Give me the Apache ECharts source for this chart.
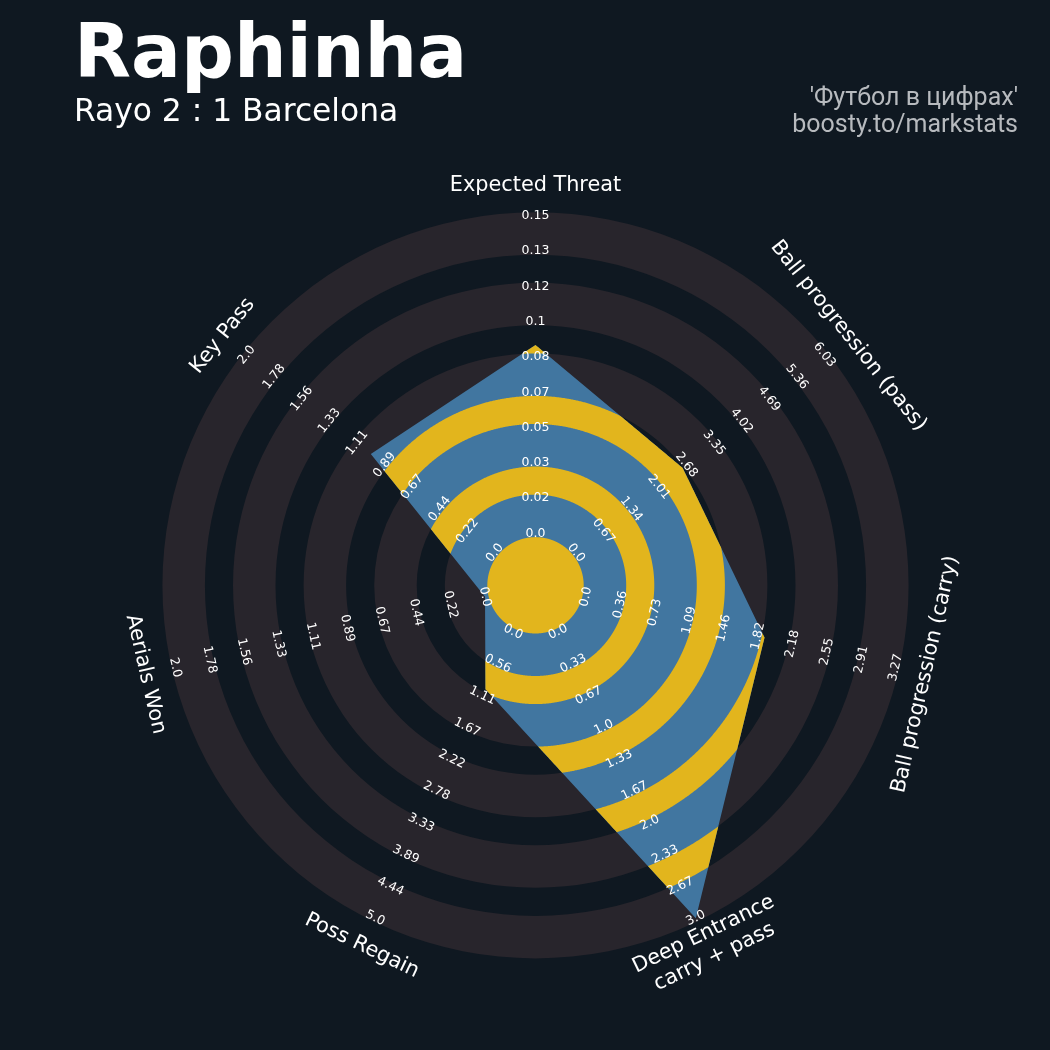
<!DOCTYPE html>
<html>
<head>
<meta charset="utf-8">
<script src="https://cdn.jsdelivr.net/npm/echarts/dist/echarts.min.js"></script>
<style>
html,body{margin:0;padding:0;background:#0f1821;}
#chart{width:1050px;height:1050px;}
</style>
</head>
<body>
<div id="chart"></div>
<script>
// ---------------- data ----------------
const params = ['Expected Threat', 'Ball progression (pass)', 'Ball progression (carry)',
  'Deep Entrance\ncarry + pass', 'Poss Regain', 'Aerials Won', 'Key Pass'];
const minRange = [0, 0, 0, 0, 0, 0, 0];
const maxRange = [0.15, 6.03, 3.27, 3.0, 5.0, 2.0, 2.0];
const values = [0.089, 2.59, 1.885, 3.0, 1.0, 0.0, 1.0];
const tickLabels = [
  ['0.0', '0.02', '0.03', '0.05', '0.07', '0.08', '0.1', '0.12', '0.13', '0.15'],
  ['0.0', '0.67', '1.34', '2.01', '2.68', '3.35', '4.02', '4.69', '5.36', '6.03'],
  ['0.0', '0.36', '0.73', '1.09', '1.46', '1.82', '2.18', '2.55', '2.91', '3.27'],
  ['0.0', '0.33', '0.67', '1.0', '1.33', '1.67', '2.0', '2.33', '2.67', '3.0'],
  ['0.0', '0.56', '1.11', '1.67', '2.22', '2.78', '3.33', '3.89', '4.44', '5.0'],
  ['0.0', '0.22', '0.44', '0.67', '0.89', '1.11', '1.33', '1.56', '1.78', '2.0'],
  ['0.0', '0.22', '0.44', '0.67', '0.89', '1.11', '1.33', '1.56', '1.78', '2.0']
];
const titleText = 'Raphinha';
const subtitleText = 'Rayo 2 : 1 Barcelona';
const creditLines = ["'Футбол в цифрах'", 'boosty.to/markstats'];

// ---------------- style / geometry ----------------
const BG = '#0f1821', RING_COLOR = '#28252c', BLUE = '#4176a0', YELLOW = '#e2b51d';
const CENTER_R = 1.467;   // radius of the centre circle, in ring widths
const STEPS = 9;          // number of ring widths between min and max
const EDGE = 0.102;       // thickness added on each side of a band
const LIM = CENTER_R + STEPS;
const PARAM_R = LIM + 0.866;
const N = params.length;

function axisAngle(i) { return Math.PI / 2 - i * 2 * Math.PI / N; }
function radiusOf(i, v) { return CENTER_R + (v - minRange[i]) / (maxRange[i] - minRange[i]) * STEPS; }
const verts = values.map((v, i) => {
  const r = radiusOf(i, v), a = axisAngle(i);
  return [r * Math.cos(a), r * Math.sin(a)];
});

function cross(a, b) { return a[0] * b[1] - a[1] * b[0]; }
function rhoAt(phi) {
  const d = [Math.cos(phi), Math.sin(phi)];
  let best = 0;
  for (let i = 0; i < N; i++) {
    const P = verts[i], Q = verts[(i + 1) % N];
    const E = [Q[0] - P[0], Q[1] - P[1]];
    const den = cross(d, E);
    if (Math.abs(den) < 1e-12) continue;
    const s = cross(P, E) / den;
    const t = cross(P, d) / den;
    if (t >= -1e-9 && t <= 1 + 1e-9 && s > 0 && s > best) best = s;
  }
  return best;
}
function normU(u) { u = u % (2 * Math.PI); if (u < 0) u += 2 * Math.PI; return u; }
function sampleAngles(a, b) {
  const us = [];
  const M = 1440;
  for (let k = 0; k < M; k++) us.push(k * 2 * Math.PI / M);
  for (let i = 0; i < N; i++) us.push(normU(i * 2 * Math.PI / N));
  [a, b].forEach(r => {
    if (r <= 0) return;
    for (let i = 0; i < N; i++) {
      const P = verts[i], Q = verts[(i + 1) % N];
      const D = [Q[0] - P[0], Q[1] - P[1]];
      const A = D[0] * D[0] + D[1] * D[1];
      const B = 2 * (P[0] * D[0] + P[1] * D[1]);
      const C = P[0] * P[0] + P[1] * P[1] - r * r;
      const disc = B * B - 4 * A * C;
      if (disc < 0 || A === 0) continue;
      [(-B - Math.sqrt(disc)) / (2 * A), (-B + Math.sqrt(disc)) / (2 * A)].forEach(t => {
        if (t >= 0 && t <= 1) {
          const X = [P[0] + t * D[0], P[1] + t * D[1]];
          us.push(normU(Math.PI / 2 - Math.atan2(X[1], X[0])));
        }
      });
    }
  });
  us.sort((x, y) => x - y);
  const out = [];
  us.forEach(u => { if (!out.length || u - out[out.length - 1] > 1e-9) out.push(u); });
  return out;
}

function bandShapes(a, b, api) {
  const us = sampleAngles(a, b);
  const M = us.length;
  const rh = us.map(u => rhoAt(Math.PI / 2 - u));
  const inside = rh.map(r => r > a + 1e-7);
  const pt = (u, r) => api.coord([r * Math.cos(Math.PI / 2 - u), r * Math.sin(Math.PI / 2 - u)]);
  const outerR = k => Math.max(a, Math.min(b, rh[k]));
  const style = { fill: YELLOW };
  const s0 = inside.indexOf(false);
  if (s0 < 0) {
    const outer = us.map((u, k) => pt(u, outerR(k)));
    if (a <= 0) return [{ type: 'polygon', shape: { points: outer }, style }];
    const inner = us.map(u => pt(u, a)).reverse();
    const toPath = pts => 'M' + pts.map(p => p[0].toFixed(2) + ' ' + p[1].toFixed(2)).join(' L') + ' Z';
    return [{ type: 'path', shape: { pathData: toPath(outer) + ' ' + toPath(inner) }, style }];
  }
  const shapes = [];
  let run = null;
  for (let n = 1; n <= M; n++) {
    const k = (s0 + n) % M;
    if (inside[k]) {
      if (!run) run = [(k - 1 + M) % M];
      run.push(k);
    } else if (run) {
      run.push(k);
      const outer = run.map(q => pt(us[q], outerR(q)));
      const inner = run.slice().reverse().map(q => pt(us[q], a));
      shapes.push({ type: 'polygon', shape: { points: outer.concat(inner) }, style });
      run = null;
    }
  }
  return shapes;
}

function textRotation(phi) {
  let rot = phi - Math.PI / 2;
  while (rot <= -Math.PI) rot += 2 * Math.PI;
  while (rot > Math.PI) rot -= 2 * Math.PI;
  if (rot > Math.PI / 2 + 1e-9) rot -= Math.PI;
  if (rot < -Math.PI / 2 - 1e-9) rot += Math.PI;
  return rot;
}

// band index lists
const ringBands = [0, 1, 2, 3, 4].map(j => [j, 0]);
const yellowBands = [-1, 0, 1, 2, 3].map(j => [j, 0]);
const tickData = [];
params.forEach((p, i) => tickLabels[i].forEach((t, k) => tickData.push([i, k])));

const chart = echarts.init(document.getElementById('chart'), null, { renderer: 'canvas' });
const option = {
  backgroundColor: BG,
  animation: false,
  grid: { left: 147.2, top: 197.0, width: 776.6, height: 776.6, show: false },
  xAxis: { type: 'value', min: -11, max: 11, show: false },
  yAxis: { type: 'value', min: -11, max: 11, show: false },
  graphic: [
    { type: 'text', x: 74, y: 58, style: { text: titleText, fill: '#ffffff', font: 'bold 74px "DejaVu Sans"', align: 'left', verticalAlign: 'middle' } },
    { type: 'text', x: 74, y: 113, style: { text: subtitleText, fill: '#ffffff', font: '31.3px "DejaVu Sans"', align: 'left', verticalAlign: 'middle' } },
    { type: 'text', x: 1018, y: 98.5, style: { text: creditLines[0], fill: '#b7babe', font: '25px Roboto', align: 'right', verticalAlign: 'middle' } },
    { type: 'text', x: 1018, y: 126, style: { text: creditLines[1], fill: '#b7babe', font: '25px Roboto', align: 'right', verticalAlign: 'middle' } }
  ],
  series: [
    {
      type: 'custom', z: 1, silent: true, data: ringBands,
      renderItem: function (p, api) {
        const j = api.value(0);
        const c = api.coord([0, 0]);
        const r0 = api.size([CENTER_R + 2 * j - EDGE, 0])[0];
        const r1 = api.size([CENTER_R + 2 * j + 1 + EDGE, 0])[0];
        return { type: 'ring', shape: { cx: c[0], cy: c[1], r: r1, r0: r0 }, style: { fill: RING_COLOR } };
      }
    },
    {
      type: 'custom', z: 2, silent: true, data: values.map((v, i) => [i, v]),
      renderItem: function (p, api) {
        if (p.dataIndex !== 0) return { type: 'group', children: [] };
        return { type: 'polygon', shape: { points: verts.map(v => api.coord(v)) }, style: { fill: BLUE } };
      }
    },
    {
      type: 'custom', z: 3, silent: true, data: yellowBands,
      renderItem: function (p, api) {
        const j = api.value(0);
        let a, b;
        if (j < 0) { a = 0; b = CENTER_R - EDGE; }
        else { a = CENTER_R + 2 * j + 1 + EDGE; b = CENTER_R + 2 * j + 2 - EDGE; }
        return { type: 'group', children: bandShapes(a, b, api) };
      }
    },
    {
      type: 'custom', z: 4, silent: true, data: tickData,
      renderItem: function (p, api) {
        const i = api.value(0), k = api.value(1);
        const phi = axisAngle(i);
        const r = CENTER_R + k;
        const pos = api.coord([r * Math.cos(phi), r * Math.sin(phi)]);
        return {
          type: 'text', x: pos[0], y: pos[1], rotation: textRotation(phi),
          style: { text: tickLabels[i][k], fill: '#ffffff', font: '12.5px "DejaVu Sans"', align: 'center', verticalAlign: 'middle' }
        };
      }
    },
    {
      type: 'custom', z: 4, silent: true, data: params.map((s, i) => [i, 0]),
      renderItem: function (p, api) {
        const i = api.value(0);
        const phi = axisAngle(i);
        const pos = api.coord([PARAM_R * Math.cos(phi), PARAM_R * Math.sin(phi)]);
        return {
          type: 'text', x: pos[0], y: pos[1], rotation: textRotation(phi),
          style: { text: params[i], fill: '#ffffff', font: '20.8px "DejaVu Sans"', align: 'center', verticalAlign: 'middle', lineHeight: 25 }
        };
      }
    }
  ]
};
chart.setOption(option);
</script>
</body>
</html>
